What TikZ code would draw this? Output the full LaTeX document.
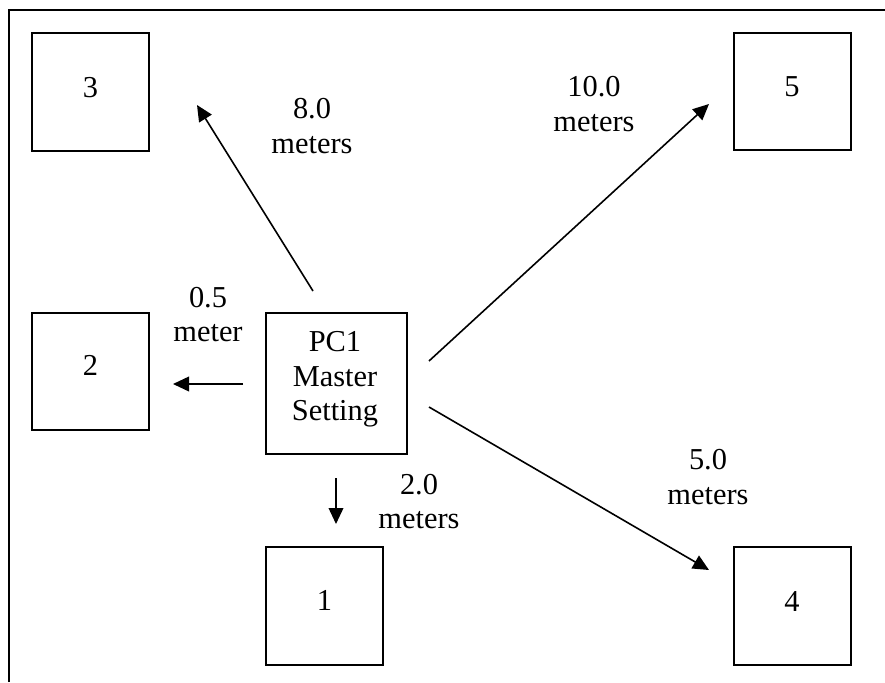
\documentclass[tikz,border=0pt]{standalone}
\usepackage{fontspec}
\setmainfont{Liberation Serif}
\usetikzlibrary{arrows.meta}
\begin{document}
\begin{tikzpicture}[x=0.75pt,y=-0.75pt,
  unitbox/.style={draw, line width=1.5pt, inner sep=0pt, outer sep=0pt,
                  minimum width=87.75pt, minimum height=88pt},
  lbl/.style={inner sep=0pt, align=center, font=\fontsize{22.8}{25.9}\selectfont},
  link/.style={line width=1.2pt, -{Triangle[length=12pt,width=11pt]}}]

\useasboundingbox (0,0) rectangle (885,682);

% frame
\coordinate (fb) at (9,682);
\coordinate (fc) at (9,10);
\coordinate (fr) at (885,10);
\draw[line width=1.5pt] (fb) -- (fc) -- (fr);

% stations
\node[unitbox] (b3) at (90.5,92) {};
\node[unitbox] (b5) at (792,91.5) {};
\node[unitbox] (b2) at (90.5,371.5) {};
\node[unitbox] (b1) at (324.5,606) {};
\node[unitbox] (b4) at (792,606) {};
\node[unitbox, minimum width=105.75pt, minimum height=105.75pt] (pc) at (336.5,383.5) {};

% station numbers
\node[lbl, anchor=base] (n3) at (90.5,97) {3};
\node[lbl, anchor=base] (n5) at (792,96) {5};
\node[lbl, anchor=base] (n2) at (90.5,375) {2};
\node[lbl, anchor=base] (n1) at (324.5,610) {1};
\node[lbl, anchor=base] (n4) at (792,611) {4};
\node[lbl] (pct) at (335,379.5) {PC1\\Master\\Setting};

% distances
\node[lbl] (d8) at (312,126) {8.0\\meters};
\node[lbl] (d10) at (594,104) {10.0\\meters};
\node[lbl] (d05) at (208,314.5) {0.5\\meter};
\node[lbl] (d2) at (419,501.5) {2.0\\meters};
\node[lbl] (d5) at (708,477) {5.0\\meters};

% arrows
\coordinate (t8) at (313,291);   \coordinate (h8) at (197,105);
\coordinate (t10) at (429,361);  \coordinate (h10) at (709,104);
\coordinate (t05) at (243,384);  \coordinate (h05) at (173,384);
\coordinate (t2) at (336,478);   \coordinate (h2) at (336,524);
\coordinate (t5) at (429,407);   \coordinate (h5) at (709,570);
\draw[link] (t8) -- (h8);
\draw[link] (t10) -- (h10);
\draw[link] (t05) -- (h05);
\draw[link] (t2) -- (h2);
\draw[link] (t5) -- (h5);
\end{tikzpicture}
\end{document}
